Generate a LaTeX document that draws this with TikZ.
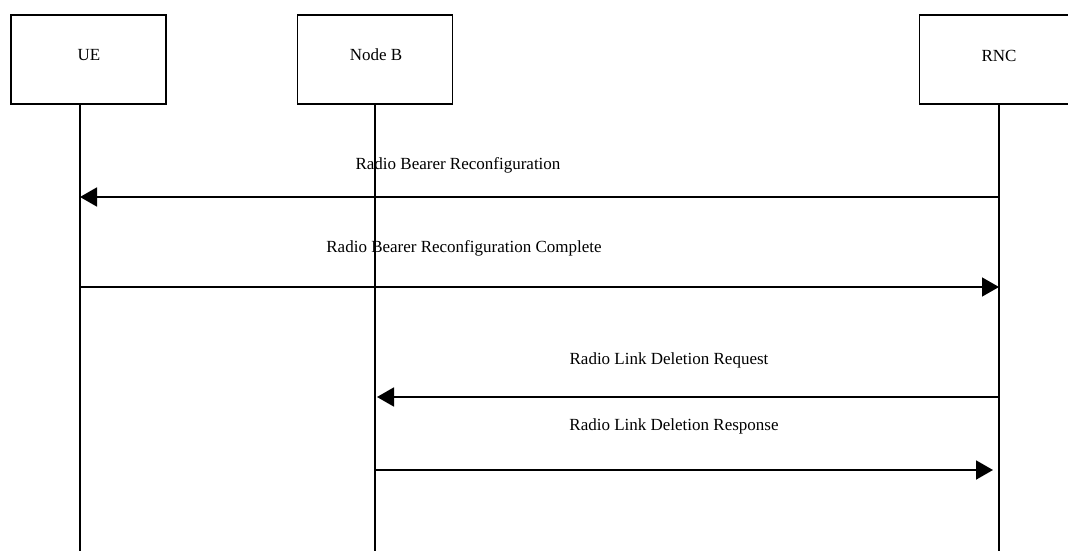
\documentclass[tikz,border=0pt]{standalone}
\usepackage{fontspec}
\setmainfont{Liberation Serif}
\usetikzlibrary{arrows.meta}
\tikzset{
  actor/.style={draw, line width=1.6pt, minimum width=155pt, minimum height=89pt, inner sep=0pt},
  actorlbl/.style={inner sep=0pt, font=\fontsize{17}{20}\selectfont},
  life/.style={line width=1.1pt},
  msg/.style={line width=1.9pt, -{Triangle[length=17pt,width=19pt]}},
  msgthin/.style={line width=1.5pt, -{Triangle[length=17pt,width=19pt]}},
  lbl/.style={anchor=base, inner sep=0pt, font=\fontsize{17}{20}\selectfont}
}
\begin{document}
\begin{tikzpicture}[x=1pt,y=-1pt]
\useasboundingbox (0,0) rectangle (1068,551);
\clip (0,0) rectangle (1068,551);
% actors
\node[actor] (ue) at (88.5,59.5) {};
\node[actorlbl] (uet) at (89,55) {UE};
\node[actor] (nb) at (375,59.5) {};
\node[actorlbl] (nbt) at (376,55) {Node B};
\node[actor] (rnc) at (997,59.5) {};
\node[actorlbl] (rnct) at (999,56) {RNC};
% lifelines
\coordinate (ueT) at (80,104); \coordinate (ueB) at (80,551);
\coordinate (nbT) at (375,104); \coordinate (nbB) at (375,551);
\coordinate (rncT) at (999,104); \coordinate (rncB) at (999,551);
\draw[life] (ueT) -- (ueB);
\draw[life] (nbT) -- (nbB);
\draw[life] (rncT) -- (rncB);
% message end points
\coordinate (m1a) at (999,197); \coordinate (m1b) at (80,197);
\coordinate (m2a) at (80,287); \coordinate (m2b) at (999,287);
\coordinate (m3a) at (999,397); \coordinate (m3b) at (377,397);
\coordinate (m4a) at (375,470); \coordinate (m4b) at (993,470);
\draw[msg] (m1a) -- (m1b);
\draw[msgthin] (m2a) -- (m2b);
\draw[msg] (m3a) -- (m3b);
\draw[msg] (m4a) -- (m4b);
% labels
\node[lbl] (l1) at (458,169) {Radio Bearer Reconfiguration};
\node[lbl] (l2) at (464,252) {Radio Bearer Reconfiguration Complete};
\node[lbl] (l3) at (669,364) {Radio Link Deletion Request};
\node[lbl] (l4) at (674,430) {Radio Link Deletion Response};
\end{tikzpicture}
\end{document}
